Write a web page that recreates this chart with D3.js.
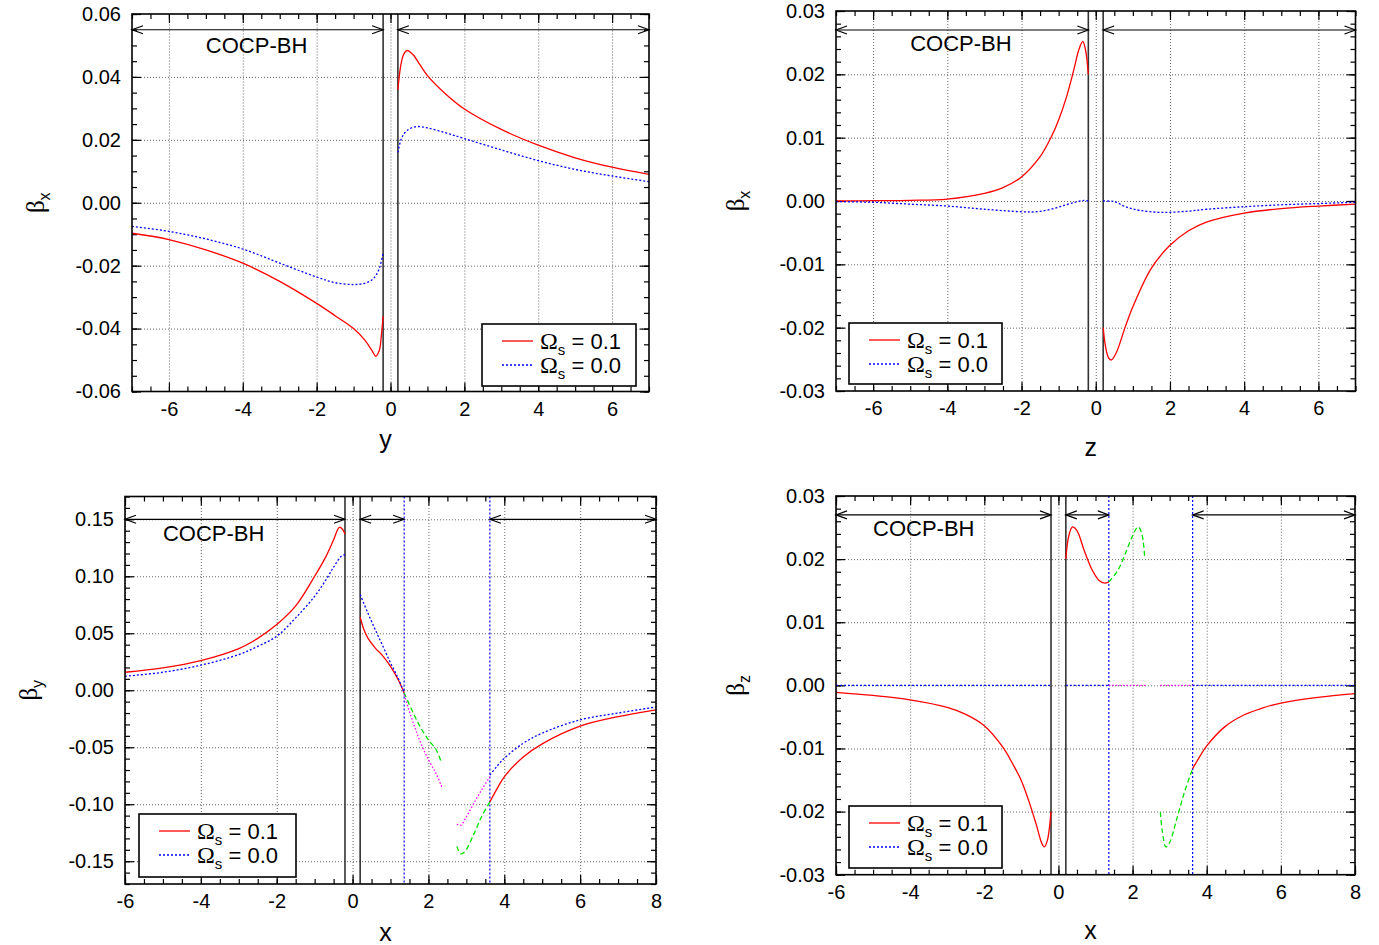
<!DOCTYPE html>
<html>
<head>
<meta charset="utf-8">
<script src="https://cdn.jsdelivr.net/npm/d3@7"></script>
<style>
  body { margin: 0; background: #fff; }
  text { font-family: "Liberation Sans", Arial, sans-serif; }
</style>
</head>
<body>
<svg id="chart" width="1379" height="945"></svg>
<script>
// ---- data ----
const omegaLabels = ["0.1", "0.0"];
const bhEdges = [-0.2, 0.2];
const matchEdges = [1.36, 3.62];

// (a) beta_x along y
const aRedL = [[-7,-0.0097],[-6,-0.0117],[-5,-0.0150],[-4,-0.0192],[-3,-0.0250],[-2,-0.0320],[-1.5,-0.0359],[-1,-0.0400],[-0.7,-0.0436],[-0.5,-0.0470],[-0.4,-0.0488],[-0.3,-0.0468],[-0.25,-0.0425],[-0.2,-0.0361]];
const aBlueL = [[-7,-0.0075],[-6,-0.0091],[-5,-0.0115],[-4,-0.0147],[-3,-0.0192],[-2,-0.0236],[-1.5,-0.0254],[-1,-0.0260],[-0.7,-0.0256],[-0.5,-0.0245],[-0.4,-0.0232],[-0.3,-0.0208],[-0.2,-0.0160]];
const aRedR = [[0.2,0.0359],[0.27,0.0430],[0.35,0.0470],[0.45,0.0484],[0.6,0.0472],[0.8,0.0438],[1,0.0404],[1.5,0.0345],[2,0.0298],[3,0.0233],[4,0.0183],[5,0.0143],[6,0.0113],[7,0.0090]];
const aBlueR = [[0.2,0.0160],[0.3,0.0205],[0.45,0.0230],[0.7,0.0242],[1,0.0238],[1.5,0.0222],[2,0.0204],[3,0.0168],[4,0.0134],[5,0.0106],[6,0.0085],[7,0.0067]];

// (b) beta_x along z
const bRedL = [[-7,0],[-6,0.00005],[-5,0.0001],[-4,0.0003],[-3,0.0012],[-2.5,0.0021],[-2,0.0038],[-1.5,0.0070],[-1.2,0.0101],[-1,0.0128],[-0.8,0.0162],[-0.6,0.0205],[-0.45,0.0240],[-0.35,0.0252],[-0.28,0.0240],[-0.2,0.0200]];
const bBlueL = [[-7,-0.0001],[-6,-0.0002],[-5,-0.0005],[-4,-0.0008],[-3,-0.0013],[-2,-0.0017],[-1.6,-0.0017],[-1.2,-0.0013],[-0.8,-0.0006],[-0.5,-0.0001],[-0.3,0.0001],[-0.2,0]];
const bRedR = [[0.2,-0.0200],[0.27,-0.0232],[0.35,-0.0248],[0.42,-0.0251],[0.55,-0.0240],[0.8,-0.0198],[1,-0.0167],[1.5,-0.0106],[2,-0.0070],[2.5,-0.0047],[3,-0.0033],[4,-0.0019],[5,-0.0012],[6,-0.0008],[7,-0.0005]];
const bBlueR = [[0.2,0],[0.5,-0.0001],[0.8,-0.0009],[1.2,-0.0015],[1.8,-0.0018],[2.5,-0.0016],[3,-0.0013],[4,-0.0009],[5,-0.0006],[6,-0.0004],[7,-0.0002]];

// (c) beta_y along x
const cRedL = [[-6,0.0158],[-5,0.0196],[-4,0.0260],[-3,0.0365],[-2.5,0.0455],[-2,0.0576],[-1.5,0.0740],[-1,0.1000],[-0.7,0.1175],[-0.5,0.1320],[-0.35,0.1430],[-0.27,0.1415],[-0.2,0.1370]];
const cBlueL = [[-6,0.0123],[-5,0.0158],[-4,0.0220],[-3,0.0313],[-2.5,0.0385],[-2,0.0474],[-1.5,0.0635],[-1,0.0825],[-0.7,0.0970],[-0.5,0.1080],[-0.3,0.1175],[-0.2,0.1190]];
const cRedM = [[0.2,0.0643],[0.3,0.0530],[0.4,0.0460],[0.6,0.0370],[0.8,0.0300],[1,0.0210],[1.2,0.0094],[1.36,-0.0023]];
const cBlueM = [[0.2,0.0840],[0.4,0.0680],[0.6,0.0530],[0.8,0.0386],[1,0.0240],[1.2,0.0108],[1.36,-0.0023]];
const cGreen1 = [[1.36,-0.0023],[1.6,-0.0200],[1.8,-0.0330],[2,-0.0435],[2.2,-0.0520],[2.35,-0.0640]];
const cMagenta1 = [[1.36,-0.0040],[1.6,-0.0288],[1.8,-0.0465],[2,-0.0610],[2.2,-0.0730],[2.35,-0.0847]];
const cGreen2 = [[2.75,-0.1370],[2.85,-0.1435],[2.95,-0.1420],[3.2,-0.1260],[3.4,-0.1110],[3.62,-0.0980]];
const cMagenta2 = [[2.75,-0.1176],[2.85,-0.1185],[3,-0.1110],[3.2,-0.0990],[3.4,-0.0876],[3.62,-0.0759]];
const cRedR = [[3.62,-0.0980],[3.8,-0.0870],[4,-0.0760],[4.5,-0.0585],[5,-0.0470],[6,-0.0315],[7,-0.0232],[8,-0.0172]];
const cBlueR = [[3.62,-0.0744],[3.8,-0.0670],[4,-0.0597],[4.5,-0.0465],[5,-0.0376],[6,-0.0260],[7,-0.0200],[8,-0.0147]];

// (d) beta_z along x
const dRedL = [[-6,-0.0011],[-5,-0.0016],[-4,-0.0023],[-3,-0.0035],[-2.5,-0.0046],[-2,-0.0064],[-1.5,-0.0098],[-1.2,-0.0128],[-1,-0.0151],[-0.8,-0.0183],[-0.6,-0.0220],[-0.45,-0.0250],[-0.38,-0.0256],[-0.3,-0.0246],[-0.2,-0.0200]];
const dRedM = [[0.2,0.0200],[0.28,0.0237],[0.38,0.0251],[0.5,0.0245],[0.7,0.0213],[0.9,0.0184],[1.1,0.0166],[1.25,0.0162],[1.36,0.0164]];
const dGreen1 = [[1.36,0.0164],[1.6,0.0182],[1.8,0.0208],[2,0.0237],[2.15,0.0251],[2.25,0.0240],[2.33,0.0200]];
const dGreen2 = [[2.75,-0.0201],[2.8,-0.0230],[2.9,-0.0256],[3,-0.0249],[3.2,-0.0210],[3.4,-0.0169],[3.62,-0.0132]];
const dRedR = [[3.62,-0.0132],[3.8,-0.0114],[4,-0.0096],[4.5,-0.0065],[5,-0.0047],[5.5,-0.0036],[6,-0.0028],[7,-0.0019],[8,-0.0013]];
const dBlueL = [[-6,0],[-0.2,0]];
const dBlueM = [[0.2,0],[1.36,0]];
const dBlueR = [[3.62,0],[8,0]];
const dMagenta1 = [[1.36,0],[2.35,0]];
const dMagenta2 = [[2.75,0],[3.62,0]];

// tick labels
const xTicksA = [-6,-4,-2,0,2,4,6];
const xTicksC = [-6,-4,-2,0,2,4,6,8];
const yTicksA = [-0.06,-0.04,-0.02,0,0.02,0.04,0.06];
const yTicksB = [-0.03,-0.02,-0.01,0,0.01,0.02,0.03];
const yTicksC = [-0.15,-0.10,-0.05,0,0.05,0.10,0.15];

// ---- styles ----
const RED = {stroke: "#ff0000", dash: null};
const BLUE = {stroke: "#0000ff", dash: "2,2"};
const GREEN = {stroke: "#00e000", dash: "5,3"};
const MAGENTA = {stroke: "#ff00ff", dash: "1.5,2"};

const panels = [
  {left:132, right:649, top:14, bottom:391.5, xDomain:[-7,7], yDomain:[-0.06,0.06],
   xTicks:xTicksA, yTicks:yTicksA, xMinor:0.5, yMinor:0.005,
   xName:"y", yName:"x", xNameY:448, yNameX:44,
   arrowY:0.055, arrows:[[-7,bhEdges[0]],[bhEdges[1],7]], label:[-5,0.05], matchLines:false,
   legend:{x:482, y:324, w:154, h:62},
   series:[[aRedL,RED],[aBlueL,BLUE],[aRedR,RED],[aBlueR,BLUE]]},
  {left:836, right:1355.5, top:11, bottom:391, xDomain:[-7,7], yDomain:[-0.03,0.03],
   xTicks:xTicksA, yTicks:yTicksB, xMinor:0.5, yMinor:0.002,
   xName:"z", yName:"x", xNameY:456, yNameX:744,
   arrowY:0.027, arrows:[[-7,bhEdges[0]],[bhEdges[1],7]], label:[-5,0.025], matchLines:false,
   legend:{x:849, y:323, w:153, h:61},
   series:[[bRedL,RED],[bBlueL,BLUE],[bRedR,RED],[bBlueR,BLUE]]},
  {left:125, right:656, top:496.5, bottom:884, xDomain:[-6,8], yDomain:[-0.17,0.17],
   xTicks:xTicksC, yTicks:yTicksC, xMinor:0.5, yMinor:0.01,
   xName:"x", yName:"y", xNameY:941, yNameX:37,
   arrowY:0.15, arrows:[[-6,bhEdges[0]],[bhEdges[1],matchEdges[0]],[matchEdges[1],8]], label:[-5,0.138], matchLines:true,
   legend:{x:139, y:814, w:157, h:63},
   series:[[cRedL,RED],[cBlueL,BLUE],[cRedM,RED],[cBlueM,BLUE],[cGreen1,GREEN],[cMagenta1,MAGENTA],
           [cGreen2,GREEN],[cMagenta2,MAGENTA],[cRedR,RED],[cBlueR,BLUE]]},
  {left:836, right:1355, top:496, bottom:874.7, xDomain:[-6,8], yDomain:[-0.03,0.03],
   xTicks:xTicksC, yTicks:yTicksB, xMinor:0.5, yMinor:0.002,
   xName:"x", yName:"z", xNameY:939, yNameX:744,
   arrowY:0.027, arrows:[[-6,bhEdges[0]],[bhEdges[1],matchEdges[0]],[matchEdges[1],8]], label:[-5,0.025], matchLines:true,
   legend:{x:849, y:806, w:153, h:62},
   series:[[dBlueL,BLUE],[dBlueM,BLUE],[dBlueR,BLUE],[dMagenta1,MAGENTA],[dMagenta2,MAGENTA],
           [dRedL,RED],[dRedM,RED],[dGreen1,GREEN],[dGreen2,GREEN],[dRedR,RED]]}
];

const svg = d3.select("#chart");
const FONT = 20;

let minorValues = (dom, step) => {
  let lo = Math.ceil(dom[0] / step - 1e-9), hi = Math.floor(dom[1] / step + 1e-9);
  return d3.range(lo, hi + 1).map(i => i * step);
}

let styleAxis = sel => {
  sel.select(".domain").remove();
  sel.selectAll(".tick line").attr("stroke", "#000").attr("stroke-width", 1.2);
  sel.selectAll("text").attr("font-size", FONT).attr("fill", "#000")
    .attr("font-family", "Liberation Sans, Arial, sans-serif");
}

let drawPanel = p => {
  const x = d3.scaleLinear().domain(p.xDomain).range([p.left, p.right]);
  const y = d3.scaleLinear().domain(p.yDomain).range([p.bottom, p.top]);
  const w = p.right - p.left, h = p.bottom - p.top;
  const g = svg.append("g");
  const fmtY = v => (Math.abs(v) < 1e-12 ? 0 : v).toFixed(2);

  // grid
  g.append("g").attr("transform", `translate(0,${p.bottom})`)
    .call(d3.axisBottom(x).tickValues(p.xTicks).tickSize(-h).tickFormat(""))
    .call(s => s.select(".domain").remove())
    .selectAll("line").attr("stroke", "#666").attr("stroke-dasharray", "1,2");
  g.append("g").attr("transform", `translate(${p.left},0)`)
    .call(d3.axisLeft(y).tickValues(p.yTicks.filter(v => y(v) > p.top + 1 && y(v) < p.bottom - 1)).tickSize(-w).tickFormat(""))
    .call(s => s.select(".domain").remove())
    .selectAll("line").attr("stroke", "#666").attr("stroke-dasharray", "1,2");

  // minor ticks on all sides
  const xm = minorValues(p.xDomain, p.xMinor), ym = minorValues(p.yDomain, p.yMinor);
  g.append("g").attr("transform", `translate(0,${p.bottom})`)
    .call(d3.axisBottom(x).tickValues(xm).tickSize(-5).tickFormat("")).call(styleAxis);
  g.append("g").attr("transform", `translate(0,${p.top})`)
    .call(d3.axisTop(x).tickValues(xm).tickSize(-5).tickFormat("")).call(styleAxis);
  g.append("g").attr("transform", `translate(${p.left},0)`)
    .call(d3.axisLeft(y).tickValues(ym).tickSize(-5).tickFormat("")).call(styleAxis);
  g.append("g").attr("transform", `translate(${p.right},0)`)
    .call(d3.axisRight(y).tickValues(ym).tickSize(-5).tickFormat("")).call(styleAxis);

  // major ticks + labels
  g.append("g").attr("transform", `translate(0,${p.bottom})`)
    .call(d3.axisBottom(x).tickValues(p.xTicks).tickSize(-9).tickPadding(10).tickFormat(d => String(d))).call(styleAxis);
  g.append("g").attr("transform", `translate(0,${p.top})`)
    .call(d3.axisTop(x).tickValues(p.xTicks).tickSize(-9).tickFormat("")).call(styleAxis);
  g.append("g").attr("transform", `translate(${p.left},0)`)
    .call(d3.axisLeft(y).tickValues(p.yTicks).tickSize(-9).tickPadding(11).tickFormat(fmtY)).call(styleAxis);
  g.append("g").attr("transform", `translate(${p.right},0)`)
    .call(d3.axisRight(y).tickValues(p.yTicks).tickSize(-9).tickFormat("")).call(styleAxis);

  // black hole excision edges
  g.selectAll(".bh").data(bhEdges).enter().append("line")
    .attr("x1", d => x(d)).attr("x2", d => x(d)).attr("y1", p.top).attr("y2", p.bottom)
    .attr("stroke", "#333").attr("stroke-width", 1.6);

  // matching boundaries
  if (p.matchLines) {
    g.selectAll(".mb").data(matchEdges).enter().append("line")
      .attr("x1", d => x(d)).attr("x2", d => x(d)).attr("y1", p.top).attr("y2", p.bottom)
      .attr("stroke", "#0000ff").attr("stroke-width", 1.2).attr("stroke-dasharray", "2,2");
  }

  // double arrows
  const ay = y(p.arrowY);
  p.arrows.forEach(a => {
    const x1 = x(a[0]), x2 = x(a[1]);
    g.append("line").attr("x1", x1).attr("x2", x2).attr("y1", ay).attr("y2", ay)
      .attr("stroke", "#000").attr("stroke-width", 1.2);
    g.append("path").attr("d", `M${x1 + 11},${ay - 4}L${x1},${ay}L${x1 + 11},${ay + 4}`)
      .attr("fill", "none").attr("stroke", "#000").attr("stroke-width", 1.2);
    g.append("path").attr("d", `M${x2 - 11},${ay - 4}L${x2},${ay}L${x2 - 11},${ay + 4}`)
      .attr("fill", "none").attr("stroke", "#000").attr("stroke-width", 1.2);
  });

  g.append("text").attr("x", x(p.label[0])).attr("y", y(p.label[1]) + 8)
    .attr("font-size", 22).text("COCP-BH");

  // curves
  const line = d3.line().x(d => x(d[0])).y(d => y(d[1])).curve(d3.curveCatmullRom.alpha(0.5));
  p.series.forEach(s => {
    g.append("path").datum(s[0]).attr("d", line)
      .attr("fill", "none").attr("stroke", s[1].stroke).attr("stroke-width", 1.3)
      .attr("stroke-dasharray", s[1].dash);
  });

  // frame
  g.append("rect").attr("x", p.left).attr("y", p.top).attr("width", w).attr("height", h)
    .attr("fill", "none").attr("stroke", "#000").attr("stroke-width", 1.6);

  // legend
  const L = p.legend;
  const lg = g.append("g").attr("transform", `translate(${L.x},${L.y})`);
  lg.append("rect").attr("width", L.w).attr("height", L.h).attr("fill", "#fff")
    .attr("stroke", "#000").attr("stroke-width", 1.6);
  [RED, BLUE].forEach((st, i) => {
    const ry = 17 + i * 24;
    lg.append("line").attr("x1", 20).attr("x2", 51).attr("y1", ry).attr("y2", ry)
      .attr("stroke", st.stroke).attr("stroke-width", 1.3).attr("stroke-dasharray", st.dash);
    const t = lg.append("text").attr("x", 58).attr("y", ry + 8).attr("font-size", 22);
    t.append("tspan").attr("font-family", "Liberation Serif, serif").attr("font-size", 24).text("Ω");
    t.append("tspan").attr("font-size", 15).attr("dy", 6).text("s");
    t.append("tspan").attr("dy", -6).text(" = " + omegaLabels[i]);
  });

  // axis names
  g.append("text").attr("x", (p.left + p.right) / 2 - 5).attr("y", p.xNameY)
    .attr("text-anchor", "middle").attr("font-size", 25).text(p.xName);
  const yl = g.append("text")
    .attr("transform", `translate(${p.yNameX},${(p.top + p.bottom) / 2}) rotate(-90)`)
    .attr("text-anchor", "middle").attr("font-size", 25);
  yl.append("tspan").attr("font-family", "Liberation Serif, serif").text("β");
  yl.append("tspan").attr("font-size", 16).attr("dy", 6).text(p.yName);
}

panels.forEach(drawPanel);
</script>
</body>
</html>
